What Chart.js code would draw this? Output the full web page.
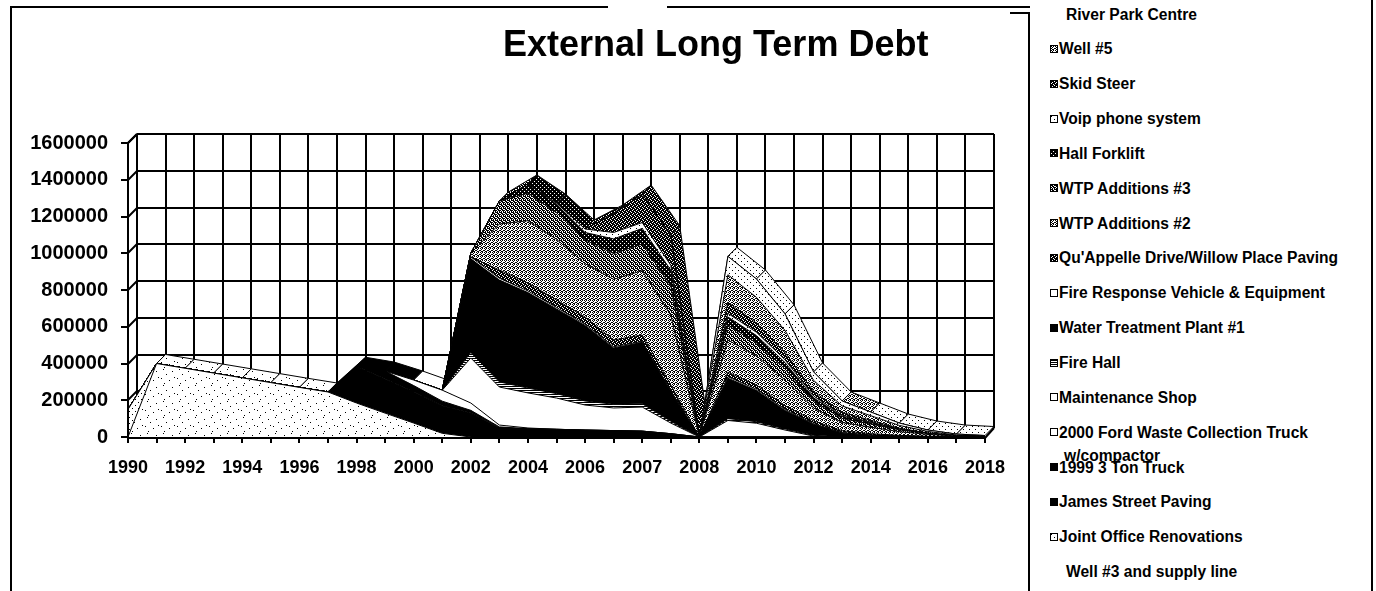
<!DOCTYPE html>
<html><head><meta charset="utf-8">
<script src="https://cdn.jsdelivr.net/npm/chart.js@4.4.1/dist/chart.umd.min.js"></script>
<style>
html,body{margin:0;padding:0;background:#fff;}
body{width:1376px;height:591px;position:relative;overflow:hidden;font-family:"Liberation Sans",Arial,sans-serif;color:#000;}
#c{position:absolute;left:0;top:0;}
#title{position:absolute;left:503px;top:24px;line-height:40px;font-size:36px;font-weight:bold;white-space:nowrap;}
.ln{position:absolute;background:#000;}
.item{position:absolute;font-size:15.6px;font-weight:bold;line-height:23px;width:305px;padding-left:5px;text-indent:-5px;}
.mk{position:absolute;width:6px;height:6px;border:1px solid #000;background-color:#fff;}
</style></head><body>
<canvas id="c" width="1020" height="591"></canvas>
<div id="title">External Long Term Debt</div>
<div class="ln" style="left:11px;top:6px;width:597px;height:2px"></div>
<div class="ln" style="left:667px;top:6px;width:363px;height:2px"></div>
<div class="ln" style="left:10px;top:6px;width:2px;height:585px"></div>
<div class="ln" style="left:1010px;top:12px;width:20px;height:2px"></div>
<div class="ln" style="left:1028px;top:12px;width:2px;height:579px"></div>
<div class="ln" style="left:1371px;top:0px;width:2px;height:591px"></div>
<div id="legend"></div>
<script>
const categories = ['1990','1991','1992','1993','1994','1995','1996','1997','1998','1999','2000','2001','2002','2003','2004','2005','2006','2006','2007','2007','2008','2009','2010','2011','2012','2013','2014','2015','2016','2017','2018'];
const yTickStep = 200000;
const yMax = 1600000;

const wellThree      = [0,400000,374000,348000,322000,296000,270000,245000,185000,130000,76000,20000,0,0,0,0,0,0,0,0,0,0,0,0,0,0,0,0,0,0,0];
const jointOffice    = [150000,0,0,0,0,0,0,0,0,0,0,0,0,0,0,0,0,0,0,0,0,0,0,0,0,0,0,0,0,0,0];
const jamesStreet    = [0,0,0,0,0,0,0,0,200000,185000,170000,150000,130000,50000,45000,42000,38000,35000,32000,18000,0,0,0,0,0,0,0,0,0,0,0];
const truck1999      = [0,0,0,0,0,0,0,0,0,44000,34000,25000,15000,5000,0,0,0,0,0,0,0,0,0,0,0,0,0,0,0,0,0];
const ford2000       = [0,0,0,0,0,0,0,0,0,0,30000,60000,40000,10000,4000,0,0,0,0,0,0,0,0,0,0,0,0,0,0,0,0];
const maintenance    = [0,0,0,0,0,0,0,0,0,0,0,0,245000,207000,191000,170000,136000,123000,131000,58000,0,90000,75000,38000,5000,0,0,0,0,0,0];
const fireHall       = [0,0,0,0,0,0,0,0,0,0,0,0,30000,28000,26000,24000,22000,20000,18000,10000,0,10000,8000,6000,4000,2000,0,0,0,0,0];
const waterPlant1    = [0,0,0,0,0,0,0,0,0,0,0,0,510000,554000,520000,461000,411000,307000,334000,163000,0,220000,170000,100000,60000,20000,10000,5000,2000,0,0];
const fireResponse   = [0,0,0,0,0,0,0,0,0,0,0,0,10000,10000,9000,8000,7000,6000,5000,4000,0,8000,7000,6000,4000,2000,1000,0,0,0,0];
const quAppelle      = [0,0,0,0,0,0,0,0,0,0,0,0,0,45000,43000,41000,39000,37000,35000,30000,0,25000,22000,20000,15000,10000,7000,4000,2000,0,0];
const wtpAdditions2  = [0,0,0,0,0,0,0,0,0,0,0,0,20000,250000,339000,330000,290000,330000,350000,380000,0,175000,160000,140000,70000,45000,35000,20000,10000,5000,3000];
const wtpAdditions3  = [0,0,0,0,0,0,0,0,0,0,0,0,0,125000,150000,145000,130000,140000,145000,160000,0,80000,70000,60000,35000,22000,17000,10000,5000,2000,0];
const hallForklift   = [0,0,0,0,0,0,0,0,0,0,0,0,0,0,50000,45000,40000,80000,85000,85000,0,45000,40000,35000,20000,12000,8000,4000,1000,0,0];
const voipPhone      = [0,0,0,0,0,0,0,0,0,0,0,0,0,0,0,7000,19000,35000,32000,27000,0,20000,18000,15000,10000,6000,3000,0,0,0,0];
const skidSteer      = [0,0,0,0,0,0,0,0,0,0,0,0,0,0,0,0,0,100000,155000,165000,0,60000,50000,40000,25000,15000,10000,5000,2000,0,0];
const wellFive       = [0,0,0,0,0,0,0,0,0,0,0,0,0,0,0,0,0,0,0,0,0,150000,140000,120000,60000,35000,25000,15000,8000,4000,2000];
const riverPark      = [0,0,0,0,0,0,0,0,0,0,0,0,0,0,0,0,0,0,0,0,0,100000,100000,90000,46000,27000,20000,13000,8000,5000,3000];

// pattern tiles (1 = black pixel)
function tile(rows){
  const h=rows.length,w=rows[0].length;
  const c=document.createElement('canvas'); c.width=w; c.height=h;
  const g=c.getContext('2d'); g.fillStyle='#fff'; g.fillRect(0,0,w,h); g.fillStyle='#000';
  rows.forEach((r,y)=>{ for(let x=0;x<w;x++) if(r[x]==='1') g.fillRect(x,y,1,1); });
  return c;
}
const T = {
  sparse: tile(["0000000000000000","0001000000000000","0000000000000000","0000000000001000","0000000000000000","0000000000000000","0000001000000000","0000000000000000","0000000000000000","0000000000000010","0100000000000000","0000000000000000","0000000001000000","0000000000000000","0000000000000000","0000100000000000"]),
  light: tile(["100000","000000","000000","000100","000000","000000"]),
  medium: tile(["1010","0100","1001","0110"]),
  half: tile(["1101","0110","1011","0101"]),
  dark: tile(["1110","1011","0111","1101"]),
  darker: tile(["1111","1101","1111","0111"]),
  hatch: tile(["1111","0000","1111","0000"])
};
const ctx0 = document.getElementById('c').getContext('2d');
function fillOf(key){
  if(key==='black') return {bg:'#000', css:'#000'};
  if(key==='white') return {bg:'#fff', css:'#fff'};
  return {bg: ctx0.createPattern(T[key],'repeat'), css:'url('+T[key].toDataURL()+')'};
}

const seriesTable = [
  {name:'Well #3 and supply line', values:wellThree, fill:'sparse', marker:false},
  {name:'Joint Office Renovations', values:jointOffice, fill:'light', marker:true},
  {name:'James Street Paving', values:jamesStreet, fill:'black', marker:true},
  {name:'1999 3 Ton Truck', values:truck1999, fill:'black', marker:true},
  {name:'2000 Ford Waste Collection Truck w/compactor', values:ford2000, fill:'white', marker:true},
  {name:'Maintenance Shop', values:maintenance, fill:'white', marker:true},
  {name:'Fire Hall', values:fireHall, fill:'hatch', marker:true},
  {name:'Water Treatment Plant #1', values:waterPlant1, fill:'black', marker:true},
  {name:'Fire Response Vehicle & Equipment', values:fireResponse, fill:'white', marker:true},
  {name:"Qu'Appelle Drive/Willow Place Paving", values:quAppelle, fill:'dark', marker:true},
  {name:'WTP Additions #2', values:wtpAdditions2, fill:'medium', marker:true},
  {name:'WTP Additions #3', values:wtpAdditions3, fill:'half', marker:true},
  {name:'Hall Forklift', values:hallForklift, fill:'darker', marker:true},
  {name:'Voip phone system', values:voipPhone, fill:'light', marker:true},
  {name:'Skid Steer', values:skidSteer, fill:'dark', marker:true},
  {name:'Well #5', values:wellFive, fill:'medium', marker:true},
  {name:'River Park Centre', values:riverPark, fill:'light', marker:false}
];

const DEPTH = 9;
const wall3d = {
  id:'wall3d',
  beforeDatasetsDraw(chart){
    const {ctx, chartArea:a, scales:{x,y}} = chart;
    ctx.save();
    ctx.strokeStyle='#000'; ctx.lineWidth=2;
    y.ticks.forEach(t=>{
      const py = Math.round(y.getPixelForValue(t.value));
      ctx.beginPath(); ctx.moveTo(a.left+DEPTH, py-DEPTH); ctx.lineTo(a.right+DEPTH, py-DEPTH); ctx.stroke();
      ctx.beginPath(); ctx.moveTo(a.left, py); ctx.lineTo(a.left+DEPTH, py-DEPTH); ctx.stroke();
    });
    categories.forEach((c,i)=>{
      const px = Math.round(x.getPixelForValue(i))+DEPTH;
      ctx.beginPath(); ctx.moveTo(px, a.top-DEPTH); ctx.lineTo(px, a.bottom-DEPTH); ctx.stroke();
    });
    // top face of the stacked volume
    const ds = chart.data.datasets, n = ds.length;
    const pts = chart.getDatasetMeta(n-1).data;
    ctx.lineWidth=1;
    for(let i=0;i<pts.length-1;i++){
      let k=-1;
      for(let d=n-1; d>=0; d--){ const v=ds[d].data; if(v[i]+v[i+1]>=60000){k=d;break;} }
      if(k<0) for(let d=n-1; d>=0; d--){ const v=ds[d].data; if(v[i]>0||v[i+1]>0){k=d;break;} }
      if(k<0) continue;
      const p0=pts[i], p1=pts[i+1];
      ctx.beginPath();
      ctx.moveTo(p0.x,p0.y); ctx.lineTo(p1.x,p1.y); ctx.lineTo(p1.x+DEPTH,p1.y-DEPTH); ctx.lineTo(p0.x+DEPTH,p0.y-DEPTH); ctx.closePath();
      ctx.fillStyle = ds[k].backgroundColor; ctx.fill(); ctx.stroke();
    }
    ctx.restore();
  },
  afterDatasetsDraw(chart){
    const {ctx, chartArea:a, scales:{x,y}} = chart;
    ctx.save();
    ctx.strokeStyle='#000'; ctx.lineWidth=2;
    ctx.beginPath(); ctx.moveTo(a.left, a.top); ctx.lineTo(a.left, a.bottom+1); ctx.lineTo(a.right, a.bottom+1); ctx.stroke();
    ctx.beginPath(); ctx.moveTo(a.left, a.top); ctx.lineTo(a.left+DEPTH, a.top-DEPTH); ctx.stroke();
    ctx.beginPath(); ctx.moveTo(a.right, a.bottom+1); ctx.lineTo(a.right+DEPTH, a.bottom-DEPTH); ctx.stroke();
    y.ticks.forEach(t=>{
      const py = Math.round(y.getPixelForValue(t.value));
      ctx.beginPath(); ctx.moveTo(a.left-7, py); ctx.lineTo(a.left, py); ctx.stroke();
    });
    categories.forEach((c,i)=>{
      const px = Math.round(x.getPixelForValue(i));
      ctx.beginPath(); ctx.moveTo(px, a.bottom); ctx.lineTo(px, a.bottom+6); ctx.stroke();
    });
    ctx.restore();
  }
};

const FONT = '"Liberation Sans", Arial, sans-serif';
const fills = seriesTable.map(s=>fillOf(s.fill));
const chart = new Chart(document.getElementById('c'), {
  type:'line',
  data:{
    labels: categories,
    datasets: seriesTable.map((s,i)=>({
      label:s.name, data:s.values, backgroundColor:fills[i].bg, borderColor:'#000', borderWidth:1,
      pointRadius:0, pointHoverRadius:0, tension:0, fill: i===0 ? 'origin' : '-1'
    }))
  },
  options:{
    responsive:false, animation:false, devicePixelRatio:1,
    layout:{padding:{left:0, top:143, right:35, bottom:0}},
    plugins:{legend:{display:false}, tooltip:{enabled:false}},
    scales:{
      x:{
        grid:{display:false}, border:{display:false},
        ticks:{autoSkip:false, maxRotation:0, minRotation:0, padding:12, color:'#000',
          font:{family:FONT, size:18, weight:'bold'},
          callback(v,i){ return i%2===0 ? this.getLabelForValue(v) : ''; }},
        afterFit(s){ s.height = 154; }
      },
      y:{
        stacked:true, min:0, max:yMax,
        grid:{display:false}, border:{display:false},
        ticks:{stepSize:yTickStep, padding:12, color:'#000', font:{family:FONT, size:20, weight:'bold'},
          callback:v=>String(v)},
        afterFit(s){ s.width = 128; }
      }
    }
  },
  plugins:[wall3d]
});

// HTML legend, top of stack first
const legendEl = document.getElementById('legend');
const dsList = chart.data.datasets.map((d,i)=>({label:d.label, css:fills[i].css, marker:seriesTable[i].marker})).reverse();
dsList.forEach((d,j)=>{
  const cy = 14 + 34.85*j;
  if(d.marker){
    const m = document.createElement('div'); m.className='mk';
    m.style.left='1050px'; m.style.top=Math.round(cy-4)+'px';
    if(d.css.startsWith('url')) m.style.backgroundImage=d.css; else m.style.backgroundColor=d.css;
    legendEl.appendChild(m);
  }
  const t = document.createElement('div'); t.className='item';
  t.style.left=(d.marker?1059:1066)+'px'; t.style.top=Math.round(cy-11.5)+'px';
  t.textContent=d.label;
  legendEl.appendChild(t);
});
</script>
</body></html>
